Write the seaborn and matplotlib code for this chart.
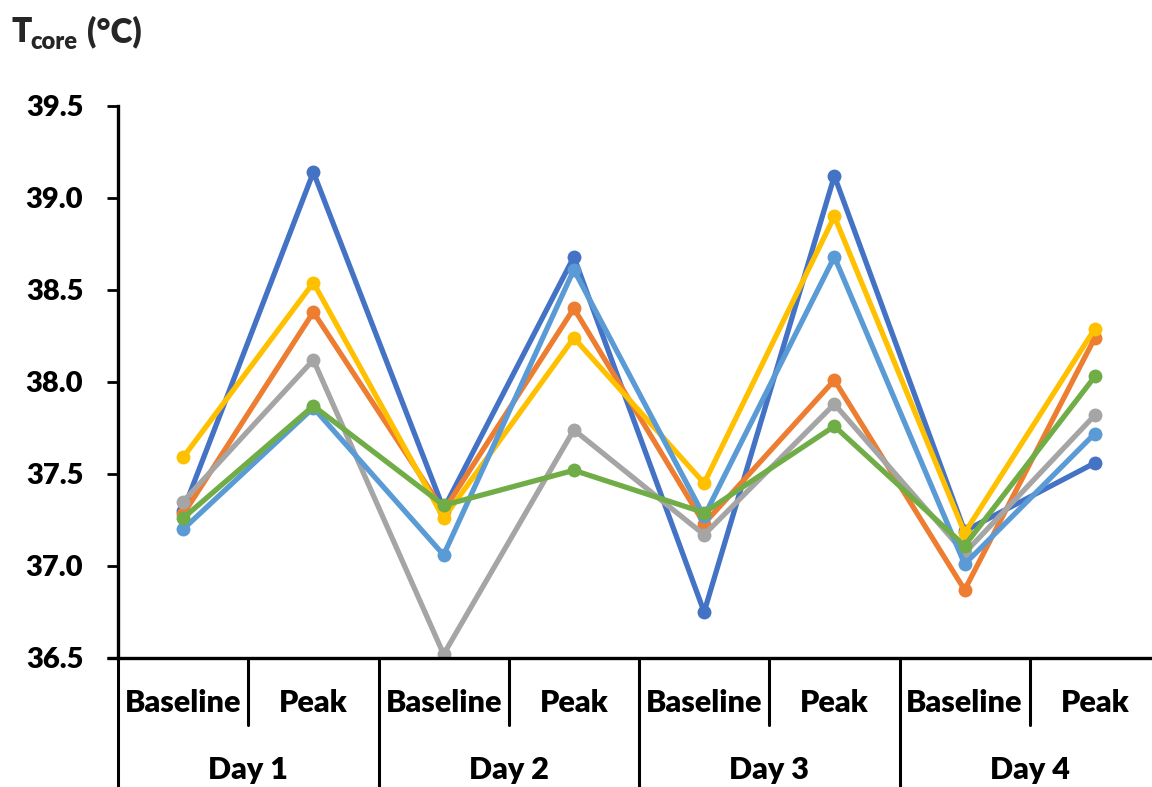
import numpy as np
import pandas as pd
import matplotlib
matplotlib.use("Agg")
import matplotlib.pyplot as plt
import matplotlib.transforms as mtransforms
import seaborn as sns

# ---- data ----
days = ["Day 1", "Day 2", "Day 3", "Day 4"]
phases = ["Baseline", "Peak"]
series_names = ["S1", "S2", "S3", "S4", "S5", "S6"]
s1 = [37.30, 39.14, 37.31, 38.68, 36.75, 39.12, 37.19, 37.56]   # dark blue
s2 = [37.28, 38.38, 37.30, 38.40, 37.23, 38.01, 36.87, 38.24]   # orange
s3 = [37.35, 38.12, 36.52, 37.74, 37.17, 37.88, 37.07, 37.82]   # gray
s4 = [37.59, 38.54, 37.26, 38.24, 37.45, 38.90, 37.18, 38.29]   # yellow
s5 = [37.20, 37.86, 37.06, 38.61, 37.27, 38.68, 37.01, 37.72]   # light blue
s6 = [37.26, 37.87, 37.33, 37.52, 37.29, 37.76, 37.11, 38.03]   # green
colors = ["#4472C4", "#ED7D31", "#A5A5A5", "#FFC000", "#5B9BD5", "#70AD47"]
yticks = [36.5, 37.0, 37.5, 38.0, 38.5, 39.0, 39.5]

all_series = [s1, s2, s3, s4, s5, s6]
n_pts = len(days) * len(phases)
rows = []
for name, vals in zip(series_names, all_series):
    for i, v in enumerate(vals):
        rows.append({"pos": i, "value": v, "series": name})
df = pd.DataFrame(rows)

sns.set_style("white")
plt.rcParams["font.family"] = ["Lato", "DejaVu Sans"]
plt.rcParams["font.weight"] = "heavy"
FW = "heavy"

W, H = 1152, 787
fig = plt.figure(figsize=(W / 100, H / 100), dpi=100)
ax_left, ax_right, ax_top, ax_bot = 118, 1160, 106, 658
ax = fig.add_axes([ax_left / W, 1 - ax_bot / H, (ax_right - ax_left) / W, (ax_bot - ax_top) / H])

sns.lineplot(data=df, x="pos", y="value", hue="series", hue_order=series_names,
             palette=colors, marker="o", markersize=10, markeredgewidth=0,
             linewidth=3.8, legend=False, sort=False, ax=ax)

ax.set_xlim(-0.5, n_pts - 0.5)
ax.set_ylim(yticks[0], yticks[-1])
ax.set_yticks(yticks)
ax.set_yticklabels([f"{t:.1f}" for t in yticks], fontsize=21, fontweight=FW)
ax.set_xticks([])
ax.set_xlabel("")
ax.set_ylabel("")
for s in ["top", "right"]:
    ax.spines[s].set_visible(False)
for s in ["left", "bottom"]:
    ax.spines[s].set_linewidth(2.4)
    ax.spines[s].set_color("black")
ax.tick_params(axis="y", direction="out", length=8, width=2, pad=17, colors="black", left=True)

# bottom spine extends to the left past the y axis
trans = mtransforms.blended_transform_factory(ax.transData, ax.transAxes)
ax.plot([-0.5 - 11 / 130.25, -0.5], [0, 0], transform=trans, color="black", lw=2.4,
        clip_on=False, solid_capstyle="butt")

# multi-level category axis
y_phase = -0.0815
y_day = -0.203
y_short = -0.121
y_full = -0.26
for d, day in enumerate(days):
    for p, ph in enumerate(phases):
        x = d * len(phases) + p
        ax.text(x, y_phase, ph, transform=trans, ha="center", va="center",
                fontsize=22, fontweight=FW, color="black")
    xc = d * len(phases) + 0.5
    ax.text(xc, y_day, day, transform=trans, ha="center", va="center",
            fontsize=22, fontweight=FW, color="black")
    xl = d * len(phases) - 0.5
    ax.plot([xl, xl], [0, y_full], transform=trans, color="black", lw=2.2, clip_on=False)
    xs = d * len(phases) + 0.5
    ax.plot([xs, xs], [0, y_short], transform=trans, color="black", lw=2.2, clip_on=False)

# axis title: T_core (°C)
fig.text(12 / W, 1 - 42 / H, "T", fontsize=24, fontweight=FW, ha="left", va="baseline")
fig.text(30 / W, 1 - 49 / H, "core", fontsize=17, fontweight=FW, ha="left", va="baseline")
fig.text(87 / W, 1 - 42 / H, "(°C)", fontsize=24, fontweight=FW, ha="left", va="baseline")

fig.savefig("out.png", dpi=100)
